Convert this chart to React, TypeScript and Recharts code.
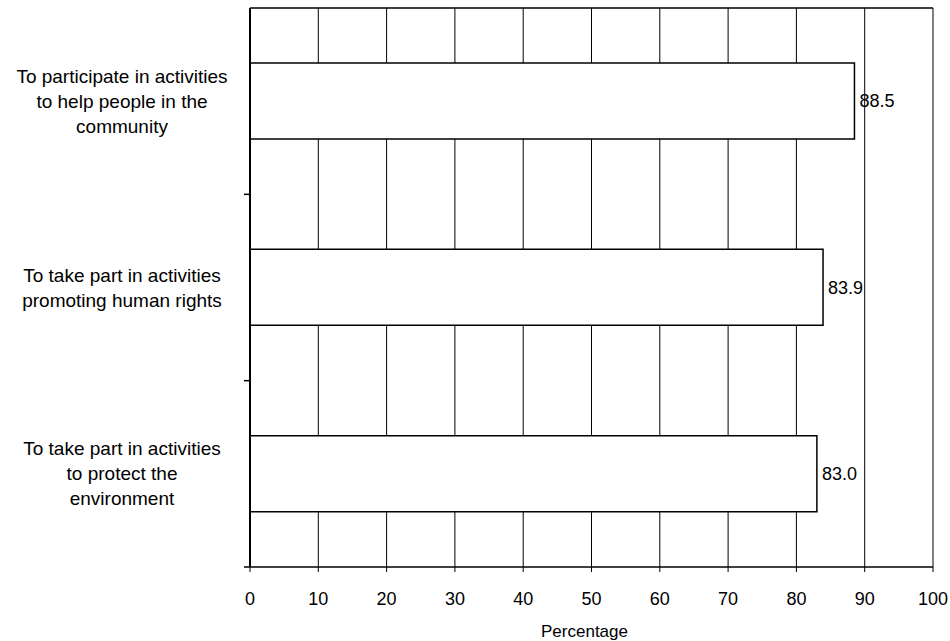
import React from 'react';
import { BarChart, Bar, XAxis, YAxis, CartesianGrid, LabelList } from 'recharts';

const categoryLines = [
    ['To participate in activities', 'to help people in the', 'community'],
    ['To take part in activities', 'promoting human rights'],
    ['To take part in activities', 'to protect the', 'environment'],
];
const categories = categoryLines.map((l) => l.join(' '));
const values = [88.5, 83.9, 83.0];
const xTicks = [0, 10, 20, 30, 40, 50, 60, 70, 80, 90, 100];

const data = categories.map((name, i) => ({ name, value: values[i] }));

const FONT = '"Liberation Sans", Arial, Helvetica, sans-serif';

function CategoryTick(props: any) {
    const { x, y, payload } = props;
    const idx = categories.indexOf(payload.value);
    const lines = idx >= 0 ? categoryLines[idx] : [String(payload.value)];
    const lh = 25;
    const start = y - ((lines.length - 1) * lh) / 2;
    const half = payload.offset || 0;
    return (
        <g>
            {lines.map((line: string, i: number) => (
                <text
                    key={i}
                    x={x - 128}
                    y={start + i * lh}
                    textAnchor="middle"
                    dominantBaseline="central"
                    fontSize={19}
                    fontFamily={FONT}
                    fill="#000"
                >
                    {line}
                </text>
            ))}
            <line x1={x - 6} x2={x} y1={y + half} y2={y + half} stroke="#000" strokeWidth={1.5} />
        </g>
    );
}

export default function App() {
    return (
        <div style={{ position: 'absolute', left: 0, top: 0, background: '#fff' }}>
            <BarChart
                width={950}
                height={641}
                data={data}
                layout="vertical"
                margin={{ top: 7, right: 17, bottom: 0, left: 0 }}
                barCategoryGap={0}
            >
                <CartesianGrid horizontal={false} stroke="#000" strokeWidth={1} />
                <XAxis
                    type="number"
                    domain={[0, 100]}
                    ticks={xTicks}
                    interval={0}
                    height={74}
                    axisLine={{ stroke: '#000', strokeWidth: 1.5 }}
                    tickLine={{ stroke: '#000' }}
                    tickSize={5}
                    tickMargin={20}
                    tick={{ fill: '#000', fontSize: 18, fontFamily: FONT }}
                    label={{
                        value: 'Percentage',
                        position: 'insideBottom',
                        offset: 4,
                        dx: -7,
                        fill: '#000',
                        fontSize: 17,
                        fontFamily: FONT,
                    }}
                />
                <XAxis
                    xAxisId="top"
                    orientation="top"
                    type="number"
                    domain={[0, 100]}
                    height={1}
                    tick={false}
                    tickLine={false}
                    axisLine={{ stroke: '#000', strokeWidth: 1.5 }}
                />
                <YAxis
                    type="category"
                    dataKey="name"
                    width={250}
                    tickSize={0}
                    tickMargin={0}
                    tickLine={false}
                    axisLine={{ stroke: '#000', strokeWidth: 2 }}
                    tick={<CategoryTick />}
                    interval={0}
                />
                <Bar
                    dataKey="value"
                    barSize={76}
                    fill="#fff"
                    stroke="#000"
                    strokeWidth={1.5}
                    isAnimationActive={false}
                >
                    <LabelList
                        dataKey="value"
                        position="right"
                        offset={5}
                        formatter={(v: any) => Number(v).toFixed(1)}
                        fill="#000"
                        fontSize={18}
                        fontFamily={FONT}
                    />
                </Bar>
            </BarChart>
        </div>
    );
}
